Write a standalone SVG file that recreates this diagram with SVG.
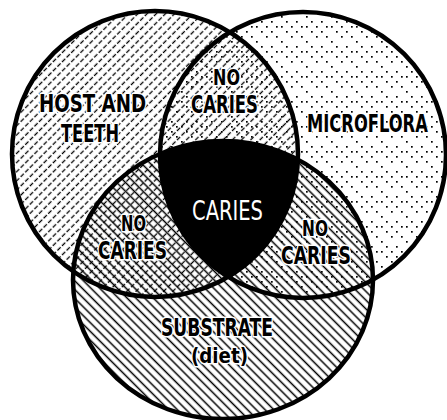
<svg xmlns="http://www.w3.org/2000/svg" width="447" height="420" viewBox="0 0 447 420">
  <style>
    .outline { fill: none; stroke: #000; stroke-width: 4.5; }
    .lbl { font-family: "Liberation Sans Narrow", "DejaVu Sans Condensed", "Liberation Sans", sans-serif; font-weight: bold; fill: #000; stroke: #fff; stroke-width: 3; paint-order: stroke; stroke-linejoin: round; }
    .center { font-family: "Liberation Sans Narrow", "DejaVu Sans Condensed", "Liberation Sans", sans-serif; font-weight: normal; fill: #fff; }
  </style>
  <defs>
    <pattern id="hatchL" patternUnits="userSpaceOnUse" width="6.5" height="6.5" patternTransform="rotate(-45)">
      <line x1="0" y1="3.2" x2="6.5" y2="3.2" stroke="#000" stroke-width="1.3" stroke-dasharray="4.5 2"/>
    </pattern>
    <pattern id="hatchB" patternUnits="userSpaceOnUse" width="6.2" height="6.2" patternTransform="rotate(45)">
      <line x1="0" y1="3.1" x2="6.2" y2="3.1" stroke="#000" stroke-width="1.5"/>
    </pattern>
    <pattern id="dots" patternUnits="userSpaceOnUse" width="25" height="25">
      <rect x="1" y="1" width="1.7" height="1.7" fill="#000"/>
      <rect x="6" y="1" width="1.7" height="1.7" fill="#000"/>
      <rect x="21" y="6" width="1.7" height="1.7" fill="#000"/>
      <rect x="11" y="6" width="1.7" height="1.7" fill="#000"/>
      <rect x="16" y="11" width="1.7" height="1.7" fill="#000"/>
      <rect x="1" y="11" width="1.7" height="1.7" fill="#000"/>
      <rect x="6" y="16" width="1.7" height="1.7" fill="#000"/>
      <rect x="21" y="21" width="1.7" height="1.7" fill="#000"/>
      <rect x="11" y="21" width="1.7" height="1.7" fill="#000"/>
      <rect x="16" y="1" width="1.7" height="1.7" fill="#000"/>
    </pattern>
    <clipPath id="clipL"><circle cx="155" cy="154" r="143"/></clipPath>
    <clipPath id="clipR"><circle cx="303" cy="155" r="143"/></clipPath>
  </defs>

  <rect width="447" height="420" fill="#fff"/>

  <g id="node-host">
    <circle cx="155" cy="154" r="143" fill="url(#hatchL)"/>
  </g>
  <g id="node-microflora">
    <circle cx="303" cy="155" r="143" fill="url(#dots)"/>
  </g>
  <g id="node-substrate">
    <ellipse cx="223" cy="280" rx="150" ry="139" fill="url(#hatchB)"/>
  </g>
  <g id="node-caries">
    <g clip-path="url(#clipL)">
      <g clip-path="url(#clipR)">
        <ellipse cx="223" cy="280" rx="150" ry="139" fill="#000"/>
      </g>
    </g>
  </g>

  <g id="outlines">
    <circle class="outline" cx="155" cy="154" r="143"/>
    <circle class="outline" cx="303" cy="155" r="143"/>
    <ellipse class="outline" cx="223" cy="280" rx="150" ry="139"/>
  </g>

  <g id="labels">
    <text class="lbl" x="39" y="112" font-size="25" textLength="107" lengthAdjust="spacingAndGlyphs">HOST AND</text>
    <text class="lbl" x="61" y="142" font-size="25" textLength="58" lengthAdjust="spacingAndGlyphs">TEETH</text>
    <text class="lbl" x="213" y="85" font-size="22" textLength="27" lengthAdjust="spacingAndGlyphs">NO</text>
    <text class="lbl" x="191" y="113" font-size="24" textLength="67" lengthAdjust="spacingAndGlyphs">CARIES</text>
    <text class="lbl" transform="translate(307 132) scale(0.8 1)" x="0" y="0" font-size="25" textLength="151" lengthAdjust="spacingAndGlyphs">MICROFLORA</text>
    <text class="center" x="192" y="220" font-size="26" textLength="71" lengthAdjust="spacingAndGlyphs">CARIES</text>
    <text class="lbl" x="121" y="231" font-size="22" textLength="25" lengthAdjust="spacingAndGlyphs">NO</text>
    <text class="lbl" x="98" y="259" font-size="24" textLength="69" lengthAdjust="spacingAndGlyphs">CARIES</text>
    <text class="lbl" x="302" y="236" font-size="22" textLength="26" lengthAdjust="spacingAndGlyphs">NO</text>
    <text class="lbl" x="281" y="264" font-size="24" textLength="70" lengthAdjust="spacingAndGlyphs">CARIES</text>
    <text class="lbl" x="161" y="336" font-size="24" textLength="112" lengthAdjust="spacingAndGlyphs">SUBSTRATE</text>
    <text class="lbl" x="191" y="363" font-size="22" textLength="57" lengthAdjust="spacingAndGlyphs">(diet)</text>
  </g>
</svg>
